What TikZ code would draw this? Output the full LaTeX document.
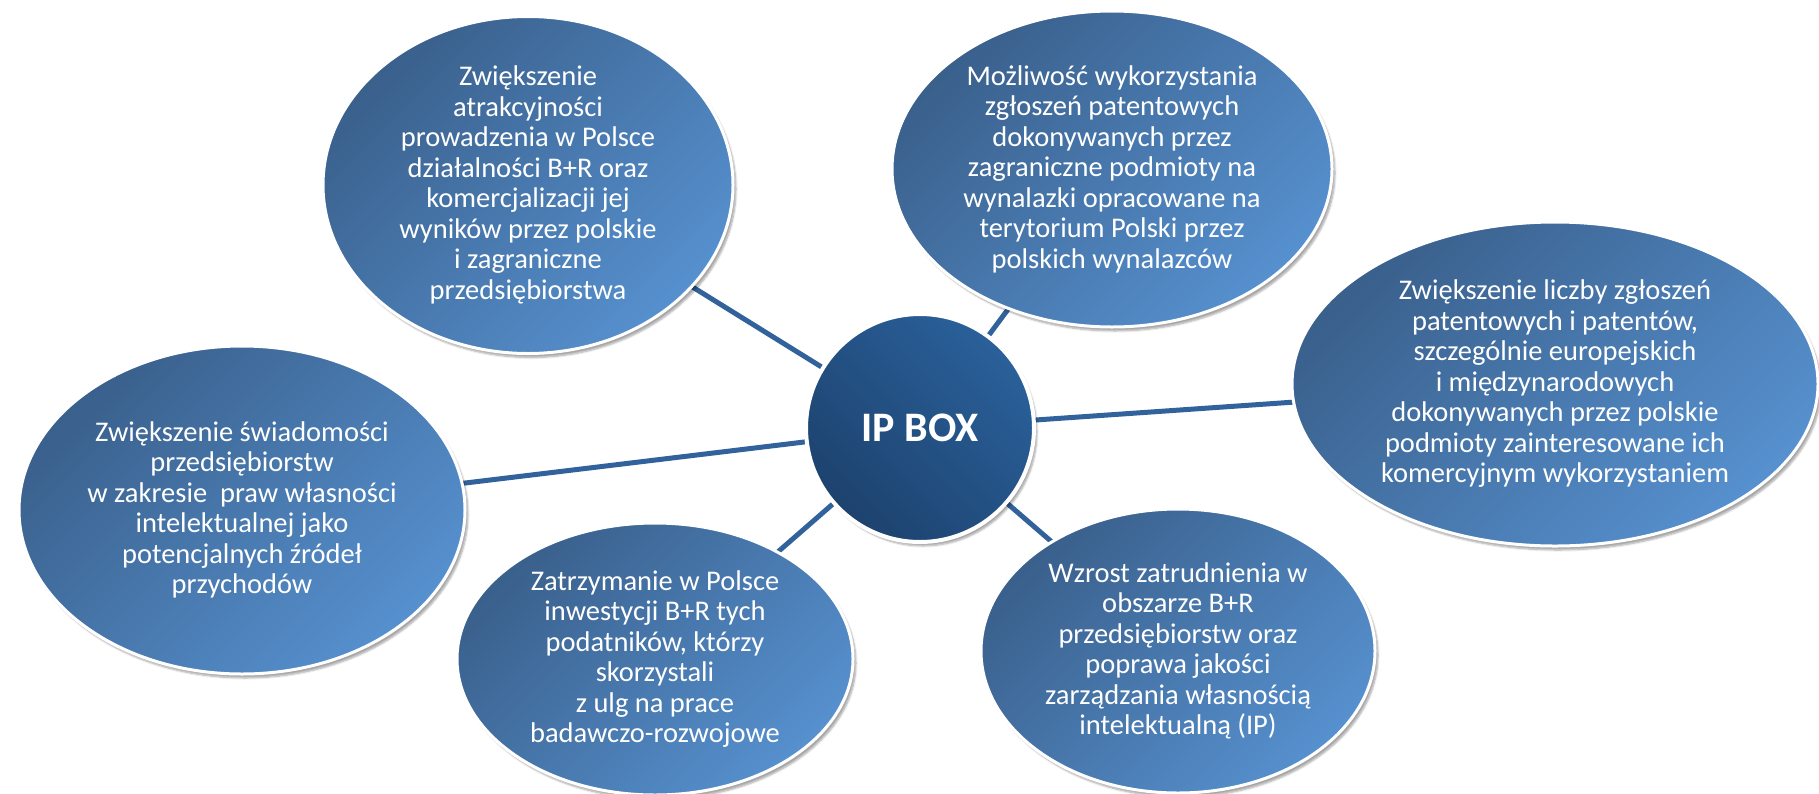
\documentclass[tikz,border=0pt]{standalone}
\usepackage{fontspec}
\setmainfont{Carlito}
\usetikzlibrary{shapes.geometric, shadows.blur, backgrounds}

\definecolor{bubbledark}{RGB}{58,96,140}
\definecolor{bubblelight}{RGB}{86,144,206}
\definecolor{hubdark}{RGB}{29,66,110}
\definecolor{hublight}{RGB}{42,96,154}
\definecolor{linkblue}{RGB}{50,98,156}

\begin{document}
\begin{tikzpicture}[x = 1pt, y = -1pt]
			    \tikzstyle{edge}=[draw,line width = 5pt,-,linkblue]
			    \tikzstyle{bubble}=[ellipse,draw=white,line width = 3pt,top color=bubbledark,bottom color=bubblelight,shading angle=45,text=white,align=center,inner sep=0pt,font=\fontsize{28.5}{30.5}\selectfont,blur shadow={shadow xshift=3pt,shadow yshift=-4pt,shadow blur steps=6,shadow opacity=35}]
			    \tikzstyle{hub}=[circle,draw=white,line width = 4pt,top color=hublight,bottom color=hubdark,shading angle=-45,text=white,inner sep=0pt,minimum size=228pt,font=\fontsize{42}{48}\selectfont\bfseries,blur shadow={shadow xshift=3pt,shadow yshift=-4pt,shadow blur steps=6,shadow opacity=35}]
			    \useasboundingbox (0,0) rectangle (1819,793);
			    \node[bubble,minimum width=410pt,minimum height=337pt] (atrakcyjnosc) at (528,185) {Zwiększenie\\atrakcyjności\\prowadzenia w Polsce\\działalności B+R oraz\\komercjalizacji jej\\wyników przez polskie\\i zagraniczne\\przedsiębiorstwa};
			    \node[bubble,minimum width=440pt,minimum height=316pt] (mozliwosc) at (1112,169) {Możliwość wykorzystania\\zgłoszeń patentowych\\dokonywanych przez\\zagraniczne podmioty na\\wynalazki opracowane na\\terytorium Polski przez\\polskich wynalazców};
			    \node[bubble,minimum width=526pt,minimum height=324pt] (liczba) at (1555,384) {Zwiększenie liczby zgłoszeń\\patentowych i patentów,\\szczególnie europejskich\\i międzynarodowych\\dokonywanych przez polskie\\podmioty zainteresowane ich\\komercyjnym wykorzystaniem};
			    \node[bubble,minimum width=446pt,minimum height=328pt] (swiadomosc) at (242,510) {Zwiększenie świadomości\\przedsiębiorstw\\w zakresie~ praw własności\\intelektualnej jako\\potencjalnych źródeł\\przychodów};
			    \node[bubble,minimum width=396pt,minimum height=272pt] (zatrzymanie) at (655,659) {Zatrzymanie w Polsce\\inwestycji B+R tych\\podatników, którzy\\skorzystali\\z ulg na prace\\badawczo-rozwojowe};
			    \node[bubble,minimum width=394pt,minimum height=284pt] (zatrudnienie) at (1178,651) {Wzrost zatrudnienia w\\obszarze B+R\\przedsiębiorstw oraz\\poprawa jakości\\zarządzania własnością\\intelektualną (IP)};
			    \node[hub] (ipbox) at (920,428) {IP BOX};
			    \begin{pgfonlayer}{background}
			    \draw[edge] (ipbox.center) -- (atrakcyjnosc.center);
			    \draw[edge] (ipbox.center) -- (mozliwosc.center);
			    \draw[edge] (ipbox.center) -- (liczba.center);
			    \draw[edge] (ipbox.center) -- (swiadomosc.center);
			    \draw[edge] (ipbox.center) -- (zatrzymanie.center);
			    \draw[edge] (ipbox.center) -- (zatrudnienie.center);
			    \end{pgfonlayer}
			\end{tikzpicture}
\end{document}
